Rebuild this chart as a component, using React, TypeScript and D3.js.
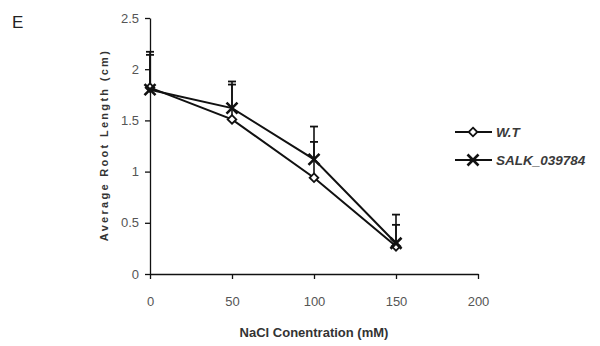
import React, { useRef, useEffect } from 'react';
import * as d3 from 'd3';

// NaCl concentration (mM)
const concentrations = [0, 50, 100, 150];
// Average root length (cm)
const wtValues = [1.82, 1.51, 0.94, 0.27];
const salkValues = [1.8, 1.62, 1.12, 0.3];
// upper error (cm)
const wtErrors = [0.32, 0.34, 0.35, 0.21];
const salkErrors = [0.37, 0.26, 0.32, 0.28];
const xTicks = [0, 50, 100, 150, 200];
const yTicks = [0, 0.5, 1, 1.5, 2, 2.5];
const seriesNames = ['W.T', 'SALK_039784'];

const App = () => {
  const svgRef = useRef<SVGSVGElement>(null);
  const width = 600;
  const height = 346;
  const margin = { top: 18, right: 122, bottom: 72, left: 150 };

  useEffect(() => {
    const svg = d3.select(svgRef.current);
    svg.selectAll('*').remove();

    const innerW = width - margin.left - margin.right;
    const innerH = height - margin.top - margin.bottom;

    const x = d3.scaleLinear().domain([0, 200]).range([0, innerW]);
    const y = d3.scaleLinear().domain([0, 2.5]).range([innerH, 0]);

    const g = svg.append('g').attr('transform', `translate(${margin.left},${margin.top})`);

    const font = 'Liberation Sans, Arial, sans-serif';
    const tickColor = '#555';

    // panel letter
    svg.append('text')
      .attr('x', 12).attr('y', 28)
      .attr('font-family', font).attr('font-size', 17)
      .attr('fill', '#222')
      .text('E');

    // axes
    const xAxis = g.append('g')
      .attr('transform', `translate(0,${innerH})`)
      .call(d3.axisBottom(x).tickValues(xTicks).tickSize(5).tickSizeOuter(0));
    xAxis.select('.domain').attr('stroke', '#111').attr('stroke-width', 1.3);
    xAxis.selectAll('line').attr('stroke', '#111').attr('stroke-width', 1.3);
    xAxis.selectAll('text')
      .attr('font-family', font).attr('font-size', 13).attr('fill', tickColor)
      .attr('y', 32).attr('dy', 0);

    const yAxis = g.append('g')
      .call(d3.axisLeft(y).tickValues(yTicks).tickFormat(d3.format('~')).tickSize(5).tickSizeOuter(0));
    yAxis.select('.domain').attr('stroke', '#111').attr('stroke-width', 1.3);
    yAxis.selectAll('line').attr('stroke', '#111').attr('stroke-width', 1.3);
    yAxis.selectAll('text')
      .attr('font-family', font).attr('font-size', 13).attr('fill', tickColor)
      .attr('x', -11);

    // axis titles
    g.append('text')
      .attr('transform', `translate(${-42},${innerH / 2 - 1}) rotate(-90)`)
      .attr('text-anchor', 'middle')
      .attr('font-family', font).attr('font-size', 11).attr('font-weight', 'bold')
      .attr('fill', '#333').attr('letter-spacing', 2.3)
      .text('Average Root Length (cm)');

    g.append('text')
      .attr('x', x(100)).attr('y', innerH + 63)
      .attr('text-anchor', 'middle')
      .attr('font-family', font).attr('font-size', 13).attr('font-weight', 'bold')
      .attr('fill', '#333')
      .text('NaCl Conentration (mM)');

    const line = d3.line<number>()
      .x((_, i) => x(concentrations[i]))
      .y(d => y(d));

    const series = [
      { values: wtValues, errors: wtErrors, marker: 'diamond' },
      { values: salkValues, errors: salkErrors, marker: 'x' },
    ];

    // error bars (plus direction)
    series.forEach(s => {
      s.values.forEach((v, i) => {
        const cx = x(concentrations[i]);
        g.append('line')
          .attr('x1', cx).attr('x2', cx)
          .attr('y1', y(v)).attr('y2', y(v + s.errors[i]))
          .attr('stroke', '#111').attr('stroke-width', 1.6);
        g.append('line')
          .attr('x1', cx - 4).attr('x2', cx + 4)
          .attr('y1', y(v + s.errors[i])).attr('y2', y(v + s.errors[i]))
          .attr('stroke', '#111').attr('stroke-width', 1.8);
      });
    });

    // lines
    series.forEach(s => {
      g.append('path')
        .datum(s.values)
        .attr('d', line)
        .attr('fill', 'none')
        .attr('stroke', '#111')
        .attr('stroke-width', 2);
    });

    const drawMarker = (sel: any, cx: number, cy: number, marker: string) => {
      if (marker === 'diamond') {
        sel.append('path')
          .attr('d', d3.symbol(d3.symbolDiamond2, 48)())
          .attr('transform', `translate(${cx},${cy})`)
          .attr('fill', '#fff')
          .attr('stroke', '#111')
          .attr('stroke-width', 1.8);
      } else {
        const r = 5.5;
        sel.append('path')
          .attr('d', `M${cx - r},${cy - r}L${cx + r},${cy + r}M${cx - r},${cy + r}L${cx + r},${cy - r}`)
          .attr('fill', 'none')
          .attr('stroke', '#111')
          .attr('stroke-width', 2.6);
      }
    };

    series.forEach(s => {
      s.values.forEach((v, i) => drawMarker(g, x(concentrations[i]), y(v), s.marker));
    });

    // legend
    const legend = svg.append('g').attr('transform', 'translate(455,0)');
    const legendRows = [132, 160];
    series.forEach((s, i) => {
      const ly = legendRows[i];
      legend.append('line')
        .attr('x1', 0).attr('x2', 37)
        .attr('y1', ly).attr('y2', ly)
        .attr('stroke', '#111').attr('stroke-width', 2);
      drawMarker(legend, 18, ly, s.marker);
      legend.append('text')
        .attr('x', 41).attr('y', ly + 5)
        .attr('font-family', font).attr('font-size', 13.5)
        .attr('font-style', 'italic').attr('font-weight', 'bold')
        .attr('fill', '#3a3a3a')
        .text(seriesNames[i]);
    });
  }, []);

  return <svg ref={svgRef} width={width} height={height} style={{ display: 'block', position: 'absolute', left: 0, top: 0, background: '#fff' }} />;
};

export default App;
